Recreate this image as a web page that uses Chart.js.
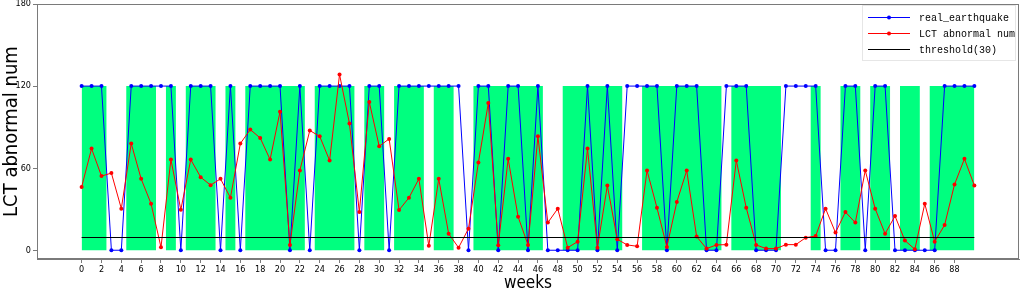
<!DOCTYPE html>
<html>
<head>
<meta charset="utf-8">
<script src="https://cdn.jsdelivr.net/npm/chart.js@4.4.1/dist/chart.umd.min.js"></script>
<style>
    html, body { margin: 0; padding: 0; background: #fff; }
    #wrap { width: 1024px; height: 288px; }
</style>
</head>
<body>
<div id="wrap"><canvas id="lctChart" width="1024" height="288"></canvas></div>
<script>
// ================= DATA =================
const weeks = [
    0, 1, 2, 3, 4, 5, 6, 7, 8, 9,
    10, 11, 12, 13, 14, 15, 16, 17, 18, 19,
    20, 21, 22, 23, 24, 25, 26, 27, 28, 29,
    30, 31, 32, 33, 34, 35, 36, 37, 38, 39,
    40, 41, 42, 43, 44, 45, 46, 47, 48, 49,
    50, 51, 52, 53, 54, 55, 56, 57, 58, 59,
    60, 61, 62, 63, 64, 65, 66, 67, 68, 69,
    70, 71, 72, 73, 74, 75, 76, 77, 78, 79,
    80, 81, 82, 83, 84, 85, 86, 87, 88, 89,
    90
];

// green bands (alarm weeks)
const alarmBand = [
    120, 120, 120, 0, 0, 120, 120, 120, 0, 120,
    0, 120, 120, 120, 0, 120, 0, 120, 120, 120,
    120, 120, 120, 0, 120, 120, 120, 120, 0, 120,
    120, 0, 120, 120, 120, 0, 120, 120, 0, 0,
    120, 120, 120, 120, 120, 120, 120, 0, 0, 120,
    120, 120, 120, 120, 120, 0, 0, 120, 120, 120,
    120, 120, 120, 120, 120, 0, 120, 120, 120, 120,
    120, 0, 0, 0, 120, 0, 0, 120, 120, 0,
    120, 120, 0, 120, 120, 0, 120, 120, 120, 120,
    120
];

const realEarthquake = [
    120, 120, 120, 0, 0, 120, 120, 120, 120, 120,
    0, 120, 120, 120, 0, 120, 0, 120, 120, 120,
    120, 0, 120, 0, 120, 120, 120, 120, 0, 120,
    120, 0, 120, 120, 120, 120, 120, 120, 120, 0,
    120, 120, 0, 120, 120, 0, 120, 0, 0, 0,
    0, 120, 0, 120, 0, 120, 120, 120, 120, 0,
    120, 120, 120, 0, 0, 120, 120, 120, 0, 0,
    0, 120, 120, 120, 120, 0, 0, 120, 120, 0,
    120, 120, 0, 0, 0, 0, 0, 120, 120, 120,
    120
];

const lctAbnormal = [
    46.2, 74.3, 54.2, 56.4, 30.4, 78, 52.2, 34, 2.2, 66.3,
    29.6, 66.3, 53.4, 47.6, 52.2, 38.4, 78, 88.2, 82.1, 66.3,
    101.3, 3.9, 58.3, 87.5, 83.3, 65.6, 128.5, 92.6, 27.9, 108.4,
    76, 81.4, 29.4, 38.4, 52.2, 3.2, 52.2, 12.1, 1.9, 15.8,
    64.1, 107.6, 3.6, 66.8, 24.5, 3.9, 83.3, 20.2, 30.4, 1.9,
    6.3, 74.3, 1.9, 47.3, 8, 3.9, 2.9, 58.3, 31.1, 2.4,
    35.2, 58.3, 10, 1.2, 3.9, 4.1, 65.6, 31.1, 3.9, 1.2,
    1.2, 4.1, 4.1, 9.2, 10.4, 30.4, 12.9, 27.9, 20.2, 58.3,
    30.4, 12.1, 25, 7.1, 0.7, 34, 6.3, 18.4, 48.1, 66.8,
    47.3
];

const thresholdWeeks = [0, 90];
const thresholdLevel = 9.3;

const xTickValues = [
    0, 2, 4, 6, 8, 10, 12, 14, 16, 18, 20, 22, 24, 26, 28, 30, 32, 34, 36, 38,
    40, 42, 44, 46, 48, 50, 52, 54, 56, 58, 60, 62, 64, 66, 68, 70, 72, 74, 76, 78,
    80, 82, 84, 86, 88
];
const yTickValues = [0, 60, 120, 180];

// ================= HELPERS =================
function toPoints(values) {
    return weeks.map((w, i) => ({ x: w, y: values[i] }));
}

const narrow = "'DejaVu Sans Condensed', 'Liberation Sans', sans-serif";

// frame + legend (matplotlib style, inside the axes)
const frameLegend = {
    id: "frameLegend",
    afterDraw(chart) {
        const { ctx, chartArea: a } = chart;
        ctx.save();
        ctx.strokeStyle = "#7a7a7a";
        ctx.lineWidth = 1;
        ctx.strokeRect(a.left + 0.5, a.top + 0.5, a.right - a.left - 1, a.bottom - a.top - 1);

        // legend box
        const bx = 862, by = 5, bw = 153, bh = 55;
        ctx.fillStyle = "rgba(255,255,255,0.85)";
        ctx.fillRect(bx, by, bw, bh);
        ctx.strokeStyle = "#e6e6e6";
        ctx.strokeRect(bx + 0.5, by + 0.5, bw, bh);

        const items = [
            { text: "real_earthquake", color: "#0000ff", marker: true },
            { text: "LCT abnormal num", color: "#ff0000", marker: true },
            { text: "threshold(30)", color: "#000000", marker: false }
        ];
        ctx.font = "10px 'Liberation Mono', 'DejaVu Sans Mono', monospace";
        ctx.textBaseline = "middle";
        items.forEach((it, i) => {
            const y = 17 + i * 16;
            ctx.strokeStyle = it.color;
            ctx.lineWidth = 1.2;
            ctx.beginPath();
            ctx.moveTo(868, y + 0.5);
            ctx.lineTo(910, y + 0.5);
            ctx.stroke();
            if (it.marker) {
                ctx.fillStyle = it.color;
                ctx.beginPath();
                ctx.arc(889, y + 0.5, 2, 0, Math.PI * 2);
                ctx.fill();
            }
            ctx.fillStyle = "#000";
            ctx.fillText(it.text, 919, y + 1);
        });
        ctx.restore();
    }
};

// ================= CHART =================
function drawChart() {
    const ctx = document.getElementById("lctChart");

    new Chart(ctx, {
        type: "line",
        data: {
            datasets: [
                {
                    label: "alarm",
                    data: toPoints(alarmBand),
                    stepped: "middle",
                    fill: "origin",
                    backgroundColor: "#00ff7f",
                    borderColor: "rgba(0,0,0,0)",
                    borderWidth: 0,
                    pointRadius: 0,
                    order: 4
                },
                {
                    label: "real_earthquake",
                    data: toPoints(realEarthquake),
                    borderColor: "#0000ff",
                    backgroundColor: "#0000ff",
                    borderWidth: 1,
                    pointRadius: 2,
                    pointBorderWidth: 0,
                    fill: false,
                    order: 3
                },
                {
                    label: "LCT abnormal num",
                    data: toPoints(lctAbnormal),
                    borderColor: "#ff0000",
                    backgroundColor: "#ff0000",
                    borderWidth: 1,
                    pointRadius: 2,
                    pointBorderWidth: 0,
                    fill: false,
                    order: 2
                },
                {
                    label: "threshold(30)",
                    data: thresholdWeeks.map(w => ({ x: w, y: thresholdLevel })),
                    borderColor: "#000000",
                    borderWidth: 1.2,
                    pointRadius: 0,
                    fill: false,
                    order: 1
                }
            ]
        },
        options: {
            responsive: false,
            animation: false,
            devicePixelRatio: 1,
            layout: { padding: { top: 4, right: 5, left: 0, bottom: 0 } },
            plugins: {
                legend: { display: false },
                tooltip: { enabled: false }
            },
            scales: {
                x: {
                    type: "linear",
                    min: -4.5,
                    max: 94.5,
                    afterBuildTicks(scale) {
                        scale.ticks = xTickValues.map(v => ({ value: v }));
                    },
                    afterFit(scale) {
                        scale.height = 29;
                        scale.paddingLeft = 0;
                        scale.paddingRight = 0;
                    },
                    grid: { drawOnChartArea: false, tickLength: 4, color: "#7a7a7a" },
                    border: { color: "#7a7a7a" },
                    ticks: {
                        autoSkip: false,
                        maxRotation: 0,
                        padding: 1,
                        color: "#000",
                        font: { family: narrow, size: 9 }
                    },
                    title: {
                        display: true,
                        text: "weeks",
                        color: "#000",
                        padding: { top: 0, bottom: -4 },
                        font: { family: narrow, size: 17, lineHeight: 1 }
                    }
                },
                y: {
                    min: -6.4,
                    max: 180,
                    afterBuildTicks(scale) {
                        scale.ticks = yTickValues.map(v => ({ value: v }));
                    },
                    afterFit(scale) {
                        scale.width = 37;
                        scale.paddingTop = 0;
                        scale.paddingBottom = 0;
                    },
                    grid: { drawOnChartArea: false, tickLength: 4, color: "#7a7a7a" },
                    border: { color: "#7a7a7a" },
                    ticks: {
                        padding: 2,
                        color: "#000",
                        font: { family: narrow, size: 9 }
                    },
                    title: {
                        display: true,
                        text: "LCT abnormal num",
                        color: "#000",
                        padding: { top: 0, bottom: 0 },
                        font: { family: narrow, size: 20, lineHeight: 1.2 }
                    }
                }
            }
        },
        plugins: [frameLegend]
    });
}

window.addEventListener("DOMContentLoaded", drawChart);
</script>
</body>
</html>
